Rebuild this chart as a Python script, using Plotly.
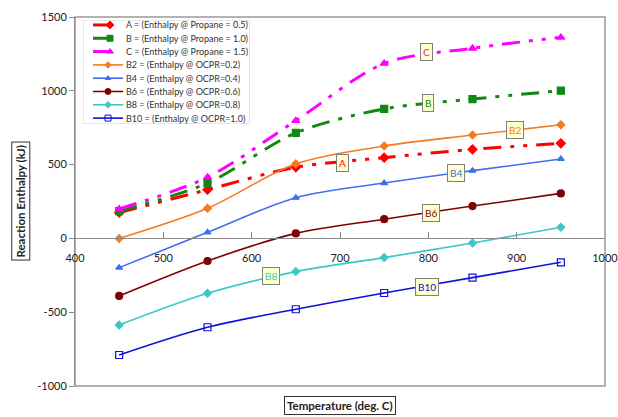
import plotly.graph_objects as go

# Reaction enthalpy (kJ) against temperature (deg. C)
temperature = [450, 550, 650, 750, 850, 950]

enthalpy_A = [175, 330, 482, 547, 603, 644]
enthalpy_B = [185, 375, 715, 877, 944, 1001]
enthalpy_C = [200, 415, 798, 1185, 1288, 1362]
enthalpy_B2 = [0, 204, 505, 626, 700, 770]
enthalpy_B4 = [-198, 41, 276, 375, 459, 538]
enthalpy_B6 = [-390, -153, 34, 130, 219, 305]
enthalpy_B8 = [-587, -372, -225, -130, -31, 75]
enthalpy_B10 = [-790, -602, -480, -370, -266, -162]

series_names = ["A", "B", "C", "B2", "B4", "B6", "B8", "B10"]
legend_texts = [
    "A = (Enthalpy @ Propane = 0.5)",
    "B = (Enthalpy @ Propane = 1.0)",
    "C = (Enthalpy @ Propane = 1.5)",
    "B2 = (Enthalpy @ OCPR=0.2)",
    "B4 = (Enthalpy @ OCPR=0.4)",
    "B6 = (Enthalpy @ OCPR=0.6)",
    "B8 = (Enthalpy @ OCPR=0.8)",
    "B10 = (Enthalpy @ OCPR=1.0)",
]

x_ticks = [400, 500, 600, 700, 800, 900, 1000]
x_tick_labels = ["400", "500", "600", "700", "800", "900", "1000"]
y_ticks = [-1000, -500, 0, 500, 1000, 1500]
y_tick_labels = ["-1000", "-500", "0", "500", "1000", "1500"]

values = {
    "A": enthalpy_A, "B": enthalpy_B, "C": enthalpy_C, "B2": enthalpy_B2,
    "B4": enthalpy_B4, "B6": enthalpy_B6, "B8": enthalpy_B8, "B10": enthalpy_B10,
}

LDD = "18px,9px,4px,9px,4px,9px"  # long dash - dot - dot
styles = {
    "A":   dict(color="#FF0000", width=3, dash=LDD, symbol="diamond", size=7),
    "B":   dict(color="#118811", width=3, dash=LDD, symbol="square", size=7),
    "C":   dict(color="#FF00FF", width=3, dash=LDD, symbol="triangle-up", size=7),
    "B2":  dict(color="#F47B20", width=1.6, dash="solid", symbol="diamond", size=6),
    "B4":  dict(color="#3F6FEF", width=1.6, dash="solid", symbol="triangle-up", size=6),
    "B6":  dict(color="#7F0000", width=1.6, dash="solid", symbol="circle", size=7),
    "B8":  dict(color="#3CC8C8", width=1.6, dash="solid", symbol="diamond", size=6),
    "B10": dict(color="#1010D8", width=1.6, dash="solid", symbol="square-open", size=7),
}

# in-chart series tags (data coordinates)
tag_pos = {
    "C": (798, 1263), "B": (800, 917), "B2": (898, 734), "A": (703, 511),
    "B4": (831, 443), "B6": (803, 172), "B8": (622, -254), "B10": (798, -329),
}

FONT = "Lato"

fig = go.Figure()

for name in series_names:
    s = styles[name]
    fig.add_trace(go.Scatter(
        x=temperature, y=values[name], mode="lines+markers", name=name,
        line=dict(color=s["color"], width=s["width"], dash=s["dash"],
                  shape="spline", smoothing=0.9),
        marker=dict(symbol=s["symbol"], size=s["size"], color=s["color"],
                    line=dict(color=s["color"], width=1.2)),
        showlegend=False, cliponaxis=False,
    ))

annotations = []
for name in series_names:
    tx, ty = tag_pos[name]
    annotations.append(dict(
        x=tx, y=ty, xref="x", yref="y", text=name, showarrow=False,
        xanchor="center", yanchor="middle",
        font=dict(family=FONT, size=10, color=styles[name]["color"]),
        bgcolor="#FFFFCC", bordercolor="#808080", borderwidth=1, borderpad=2,
    ))

# hand-built legend on an overlay subplot (pixel-like units inside the box)
row_y0, row_step = 25, 13.3
for i, name in enumerate(series_names):
    s = styles[name]
    ry = row_y0 + row_step * i
    if name in ("A", "B", "C"):
        seg_x, mk_x = [93, 111], 110
        lw = 3
    else:
        seg_x, mk_x = [93, 123], 108
        lw = 1.6
    fig.add_trace(go.Scatter(
        x=seg_x, y=[ry, ry], mode="lines", xaxis="x2", yaxis="y2",
        line=dict(color=s["color"], width=lw), showlegend=False, hoverinfo="skip",
    ))
    fig.add_trace(go.Scatter(
        x=[mk_x], y=[ry], mode="markers", xaxis="x2", yaxis="y2",
        marker=dict(symbol=s["symbol"], size=s["size"] - 1, color=s["color"],
                    line=dict(color=s["color"], width=1)),
        showlegend=False, hoverinfo="skip",
    ))
    annotations.append(dict(
        x=124, y=ry, xref="x2", yref="y2", text=legend_texts[i], showarrow=False,
        xanchor="left", yanchor="middle",
        font=dict(family=FONT, size=9, color="#333333"),
    ))

# axis titles in boxes
annotations.append(dict(
    x=-0.103, y=0.501, xref="paper", yref="paper", text="<b>Reaction Enthalpy (kJ)</b>",
    xanchor="center", yanchor="middle",
    textangle=-90, showarrow=False, font=dict(family=FONT, size=11.5, color="#222222"),
    bordercolor="#333333", borderwidth=1, borderpad=2, bgcolor="white",
))
annotations.append(dict(
    x=0.5, y=-0.0515, xref="paper", yref="paper", text="<b>Temperature (deg. C)</b>",
    xanchor="center", yanchor="middle",
    showarrow=False, font=dict(family=FONT, size=11.5, color="#222222"),
    bordercolor="#333333", borderwidth=1, borderpad=2, bgcolor="white",
))

shapes = [
    dict(type="rect", xref="paper", yref="paper", x0=0, x1=1, y0=0, y1=1,
         line=dict(color="#9A9A9A", width=1.5), layer="below"),
    dict(type="rect", xref="x2", yref="y2", x0=83, x1=250, y0=20, y1=124,
         line=dict(color="#D0D0D0", width=1), fillcolor="white", layer="below"),
]

fig.update_layout(
    width=618, height=417,
    margin=dict(l=75, r=13, t=17, b=31, autoexpand=False),
    paper_bgcolor="white", plot_bgcolor="white",
    font=dict(family=FONT, color="#222222"),
    xaxis=dict(
        range=[400, 1000], tickvals=x_ticks, ticktext=x_tick_labels,
        anchor="free", position=0.4, automargin=False,
        showline=True, linecolor="#8A8A8A", linewidth=1,
        ticks="inside", ticklen=6, tickcolor="#8A8A8A",
        showgrid=False, zeroline=False, ticklabelstandoff=9,
        ticklabeloverflow="allow",
        tickfont=dict(family=FONT, size=11, color="#222222"),
    ),
    yaxis=dict(
        range=[-1000, 1500], tickvals=y_ticks, ticktext=y_tick_labels,
        automargin=False,
        showline=True, linecolor="#8A8A8A", linewidth=1,
        ticks="outside", ticklen=5, tickcolor="#8A8A8A",
        showgrid=False, zeroline=False,
        tickfont=dict(family=FONT, size=11, color="#222222"),
    ),
    xaxis2=dict(domain=[0.0151, 0.330], range=[83, 250], anchor="y2",
                visible=False, fixedrange=True),
    yaxis2=dict(domain=[0.710, 0.992], range=[124, 20], anchor="x2",
                visible=False, fixedrange=True),
    annotations=annotations,
    shapes=shapes,
)

fig.write_html("out.html")
